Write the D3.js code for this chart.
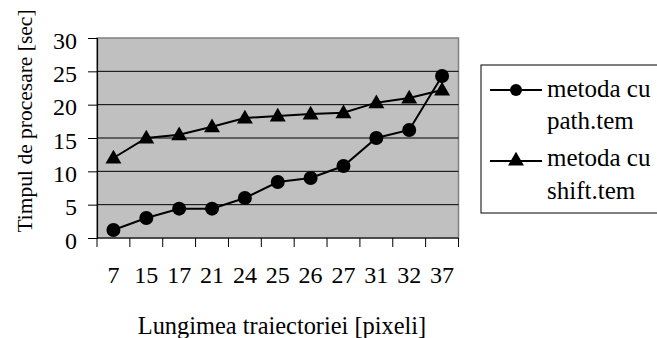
<!DOCTYPE html>
<html>
<head>
<meta charset="utf-8">
<script src="https://cdn.jsdelivr.net/npm/d3@7"></script>
<style>
  html, body { margin: 0; padding: 0; background: #fff; }
  svg { display: block; }
  svg text { font-family: "Liberation Serif", "Times New Roman", Times, serif; fill: #000; }
</style>
</head>
<body>
<svg id="chart" width="657" height="338"></svg>
<script>
// Trajectory length (pixels) on the category axis
const lengths = ["7", "15", "17", "21", "24", "25", "26", "27", "31", "32", "37"];
// Processing time in seconds for each method
const pathTem = [1.2, 3, 4.4, 4.4, 6, 8.4, 9, 10.8, 15, 16.2, 24.3];
const shiftTem = [12, 15, 15.5, 16.7, 18, 18.3, 18.6, 18.8, 20.3, 21, 22.2];
const yTicks = [0, 5, 10, 15, 20, 25, 30];
const seriesNames = [["metoda cu", "path.tem"], ["metoda cu", "shift.tem"]];

const FONT = "'Liberation Serif', 'Times New Roman', serif";
const FS = 24;

const svg = d3.select("#chart");
const plot = { left: 97, right: 458.5, top: 38, bottom: 238 };

const x = d3.scaleBand().domain(lengths).range([plot.left, plot.right]);
const y = d3.scaleLinear().domain([0, 30]).range([plot.bottom, plot.top]);

// plot area background
svg.append("rect")
  .attr("x", plot.left).attr("y", plot.top)
  .attr("width", plot.right - plot.left).attr("height", plot.bottom - plot.top)
  .attr("fill", "#c0c0c0").attr("stroke", "#808080").attr("stroke-width", 1.5);

// horizontal gridlines
svg.append("g").selectAll("line")
  .data(yTicks.filter(d => d > 0 && d < 30))
  .join("line")
  .attr("x1", plot.left).attr("x2", plot.right)
  .attr("y1", d => y(d)).attr("y2", d => y(d))
  .attr("stroke", "#000").attr("stroke-width", 1);

// y axis
const yAxis = svg.append("g")
  .attr("transform", `translate(${plot.left},0)`)
  .call(d3.axisLeft(y).tickValues(yTicks).tickSize(9).tickPadding(11))
  .attr("font-family", FONT).attr("font-size", FS);
yAxis.select(".domain").attr("stroke", "#000").attr("stroke-width", 1.2);
yAxis.selectAll(".tick line").attr("stroke", "#000");
yAxis.selectAll("text")
  .attr("dy", "0.42em")
  .style("font-family", FONT).style("font-size", FS + "px");

// x axis: ticks on band boundaries, labels at band centres
const xAxis = svg.append("g").attr("transform", `translate(0,${plot.bottom})`);
xAxis.append("line")
  .attr("x1", plot.left).attr("x2", plot.right)
  .attr("stroke", "#000").attr("stroke-width", 1.2);
const bounds = lengths.map(d => x(d)).concat([x(lengths[lengths.length - 1]) + x.bandwidth()]);
xAxis.selectAll("line.tick").data(bounds).join("line")
  .attr("class", "tick")
  .attr("x1", d => d).attr("x2", d => d)
  .attr("y1", 0).attr("y2", 9)
  .attr("stroke", "#000");
xAxis.selectAll("text").data(lengths).join("text")
  .attr("x", d => x(d) + x.bandwidth() / 2)
  .attr("y", 45)
  .attr("text-anchor", "middle")
  .style("font-family", FONT).style("font-size", FS + "px")
  .text(d => d);

// axis titles
svg.append("text")
  .attr("x", 282).attr("y", 334)
  .attr("text-anchor", "middle")
  .style("font-family", FONT).style("font-size", "24.4px")
  .text("Lungimea traiectoriei [pixeli]");
svg.append("text")
  .attr("transform", "translate(32,121) rotate(-90)")
  .attr("text-anchor", "middle")
  .style("font-family", FONT).style("font-size", "21.5px")
  .text("Timpul de procesare [sec]");

const cx = d => x(d) + x.bandwidth() / 2;
const line = d3.line().x(d => cx(d[0])).y(d => y(d[1]));
const tri = d3.symbol().type(d3.symbolTriangle).size(110);

function drawSeries(values, marker) {
  const pts = lengths.map((l, i) => [l, values[i]]);
  svg.append("path").datum(pts)
    .attr("d", line).attr("fill", "none")
    .attr("stroke", "#000").attr("stroke-width", 2);
  const g = svg.append("g");
  if (marker === "circle") {
    g.selectAll("circle").data(pts).join("circle")
      .attr("cx", d => cx(d[0])).attr("cy", d => y(d[1])).attr("r", 7).attr("fill", "#000");
  } else {
    g.selectAll("path").data(pts).join("path")
      .attr("d", tri)
      .attr("transform", d => `translate(${cx(d[0])},${y(d[1]) + 1})`)
      .attr("fill", "#000");
  }
}
drawSeries(shiftTem, "triangle");
drawSeries(pathTem, "circle");

// legend
const legend = svg.append("g");
legend.append("rect")
  .attr("x", 481).attr("y", 65).attr("width", 200).attr("height", 148)
  .attr("fill", "#fff").attr("stroke", "#000").attr("stroke-width", 1);

const legendRows = [
  { symY: 90, baselines: [97, 129], marker: "circle" },
  { symY: 161, baselines: [166, 199], marker: "triangle" }
];
legendRows.forEach((row, i) => {
  legend.append("line")
    .attr("x1", 490).attr("x2", 542).attr("y1", row.symY).attr("y2", row.symY)
    .attr("stroke", "#000").attr("stroke-width", 2);
  if (row.marker === "circle") {
    legend.append("circle").attr("cx", 516).attr("cy", row.symY).attr("r", 6).attr("fill", "#000");
  } else {
    legend.append("path").attr("d", tri).attr("transform", `translate(516,${row.symY})`).attr("fill", "#000");
  }
  seriesNames[i].forEach((t, j) => {
    legend.append("text")
      .attr("x", 547).attr("y", row.baselines[j])
      .style("font-family", FONT).style("font-size", "25px")
      .text(t);
  });
});
</script>
</body>
</html>
